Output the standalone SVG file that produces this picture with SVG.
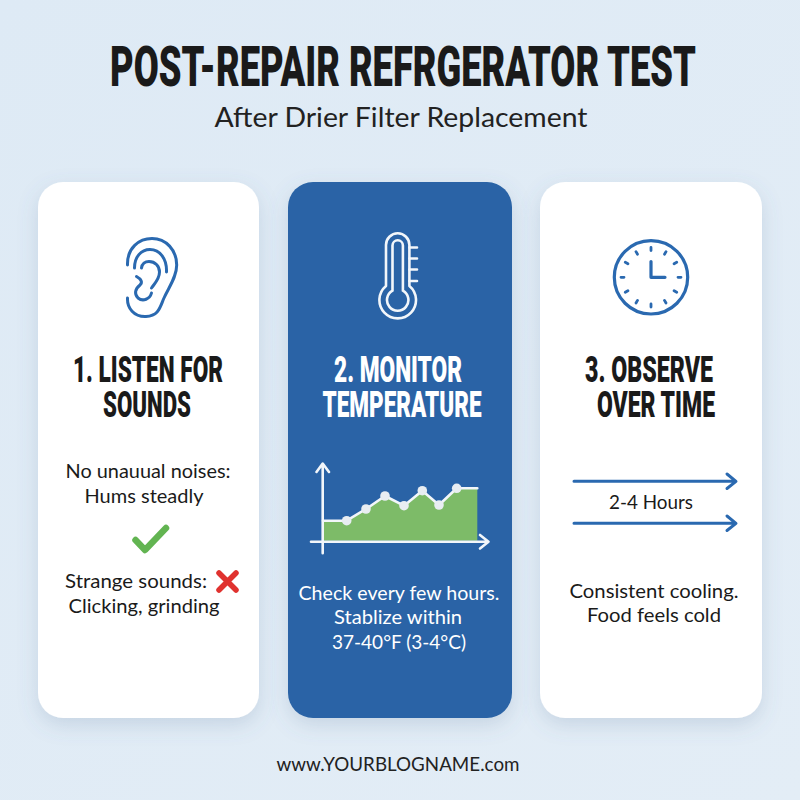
<svg xmlns="http://www.w3.org/2000/svg" width="800" height="800" viewBox="0 0 800 800">
<style>
.h{font-family:"Roboto","Liberation Sans",sans-serif;font-weight:900;text-anchor:middle}
.s{font-size:36px}
.b{font-family:"Lato","Open Sans",sans-serif;font-size:19px;text-anchor:middle}
.d{fill:#1a1a1a}.w{fill:#fff}
.ic{fill:none;stroke:#2a69b0;stroke-width:3;stroke-linecap:round;stroke-linejoin:round}
.iw{fill:none;stroke:#f2f6fa;stroke-width:2.6;stroke-linecap:round;stroke-linejoin:round}
.dot{fill:#e8edf2}
</style>
<defs>
<linearGradient id="bg" x1="0" y1="0" x2="1" y2="1"><stop offset="0" stop-color="#deeaf5"/><stop offset="1" stop-color="#e3edf6"/></linearGradient>
<filter id="sh" x="-20%" y="-10%" width="140%" height="120%"><feDropShadow dx="0" dy="7" stdDeviation="10" flood-color="#55779a" flood-opacity="0.2"/></filter>
</defs>
<rect width="800" height="800" fill="url(#bg)"/>
<text id="title" class="h d" transform="translate(403 86) scale(0.63 1)" font-size="55.500" textLength="930" lengthAdjust="spacingAndGlyphs">POST-REPAIR REFRGERATOR TEST</text>
<text id="subtitle" x="401" y="127" font-family="Lato,'Open Sans',sans-serif" font-size="27" text-anchor="middle" fill="#222" textLength="373" lengthAdjust="spacingAndGlyphs">After Drier Filter Replacement</text>
<g id="card1">
<rect x="38" y="182" width="221" height="536" rx="25" fill="#fff" filter="url(#sh)"/>
<g class="ic">
<path d="M127.500 265C127 248 139 238.500 152 238.500C166 238.500 176.700 250 176.700 265C176.700 277 169 287 164 298C160 307 159 316 146 316.500C134 317 127 308 127.500 298"/>
<path d="M134.500 268C134.500 257 141 249.500 150 249.500C160 249.500 167 259 166.500 272"/>
<path d="M141.500 268C142 264 145 261.500 149 261.500C155 261.500 159.500 266 159.500 272C159.500 279 155 283 151.500 288"/>
<path d="M136.500 276.500C141 279 143 282 140 285C135 289 134 294 138 298C143 302 150 299 151.500 293"/>
</g>
<text class="h d s"><tspan x="148" y="382" textLength="150" lengthAdjust="spacingAndGlyphs">1. LISTEN FOR</tspan><tspan x="147" y="416.500" textLength="88" lengthAdjust="spacingAndGlyphs">SOUNDS</tspan></text>
<text class="b d" x="148" y="478" textLength="165" lengthAdjust="spacingAndGlyphs">No unauual noises:</text>
<text class="b d" x="144" y="503" textLength="119" lengthAdjust="spacingAndGlyphs">Hums steadly</text>
<path d="M135.500 540L145 550L166 528" fill="none" stroke="#62b451" stroke-width="6.500" stroke-linecap="round" stroke-linejoin="round"/>
<text class="b d" x="136" y="588" textLength="142" lengthAdjust="spacingAndGlyphs">Strange sounds:</text>
<text class="b d" x="144" y="613" textLength="151" lengthAdjust="spacingAndGlyphs">Clicking, grinding</text>
<path d="M219 573L236 590M236 573L219 590" fill="none" stroke="#e0322f" stroke-width="5.500" stroke-linecap="round"/>
</g>
<g id="card2">
<rect x="288" y="182" width="224" height="536" rx="25" fill="#2a64a6" filter="url(#sh)"/>
<g class="iw">
<path d="M386 286V245A11.700 11.700 0 0 1 409.400 245V286A18.300 18.300 0 1 1 386 286Z"/>
<path d="M392.500 290.700V245.500A5.200 5.200 0 0 1 402.900 245.500V290.700A10.700 10.700 0 1 1 392.500 290.700Z"/>
<path d="M409.400 247.500H417M409.400 258.500H417M409.400 269.500H417M409.400 281H417"/>
</g>
<text class="h w s"><tspan x="398" y="382" textLength="128" lengthAdjust="spacingAndGlyphs">2. MONITOR</tspan><tspan x="402" y="416.500" textLength="159" lengthAdjust="spacingAndGlyphs">TEMPERATURE</tspan></text>
<path d="M324 520.700H346.700L366 509L385 496L404 505.700L422.300 490.700L439 505L456.700 488.300H477.300V540.700H324Z" fill="#7dbb68"/>
<path class="iw" d="M323 520.700H346.700L366 509L385 496L404 505.700L422.300 490.700L439 505L456.700 488.300H477.300"/>
<g class="iw" stroke-width="2.300">
<path d="M322.700 553.300V464M316.500 472L322.700 463.500L329 472"/>
<path d="M311 541.700H488M480 535L488.500 541.700L480 548.500"/>
</g>
<g class="dot">
<circle cx="346.700" cy="520.700" r="4.800"/><circle cx="366" cy="509" r="4.800"/><circle cx="385" cy="496" r="4.800"/><circle cx="404" cy="505.700" r="4.800"/><circle cx="422.300" cy="490.700" r="4.800"/><circle cx="439" cy="505" r="4.800"/><circle cx="456.700" cy="488.300" r="4.800"/>
</g>
<text class="b w" x="399" y="600" textLength="201" lengthAdjust="spacingAndGlyphs">Check every few hours.</text>
<text class="b w" x="398" y="624" textLength="128" lengthAdjust="spacingAndGlyphs">Stablize within</text>
<text class="b w" x="399" y="649" textLength="134" lengthAdjust="spacingAndGlyphs">37-40°F (3-4°C)</text>
</g>
<g id="card3">
<rect x="540" y="182" width="222" height="536" rx="25" fill="#fff" filter="url(#sh)"/>
<g class="ic">
<circle cx="651" cy="277.300" r="36.700" stroke-width="3.200"/>
<path d="M651 261.500V277.300H665" stroke-width="3.200"/>
<g stroke-width="2.800">
<path d="M651 247.500V250.500M651 304V307M621 277.300H624M678 277.300H681"/>
<path d="M636 251.600L637.500 254.200M666 251.600L664.500 254.200M625.300 262.300L627.900 263.800M676.700 262.300L674.100 263.800M625.300 292.300L627.900 290.800M676.700 292.300L674.100 290.800M636 303L637.500 300.400M666 303L664.500 300.400"/>
</g>
</g>
<text class="h d s"><tspan x="649" y="382" textLength="128" lengthAdjust="spacingAndGlyphs">3. OBSERVE</tspan><tspan x="656" y="416.500" textLength="118" lengthAdjust="spacingAndGlyphs">OVER TIME</tspan></text>
<text class="b d" x="651" y="509" textLength="84" lengthAdjust="spacingAndGlyphs">2-4 Hours</text>
<text class="b d" x="654" y="598" textLength="169" lengthAdjust="spacingAndGlyphs">Consistent cooling.</text>
<text class="b d" x="654" y="622" textLength="134" lengthAdjust="spacingAndGlyphs">Food feels cold</text>
</g>
<g id="connectors" class="ic">
<path d="M574 481.300H735M727 474L736 481.300L727 488.500"/>
<path d="M574 523.300H735M727 516L736 523.300L727 530.500"/>
</g>
<text id="footer" x="398" y="771" font-family="Lato,'Open Sans',sans-serif" font-size="19" text-anchor="middle" fill="#222" textLength="243" lengthAdjust="spacingAndGlyphs">www.YOURBLOGNAME.com</text>
</svg>
